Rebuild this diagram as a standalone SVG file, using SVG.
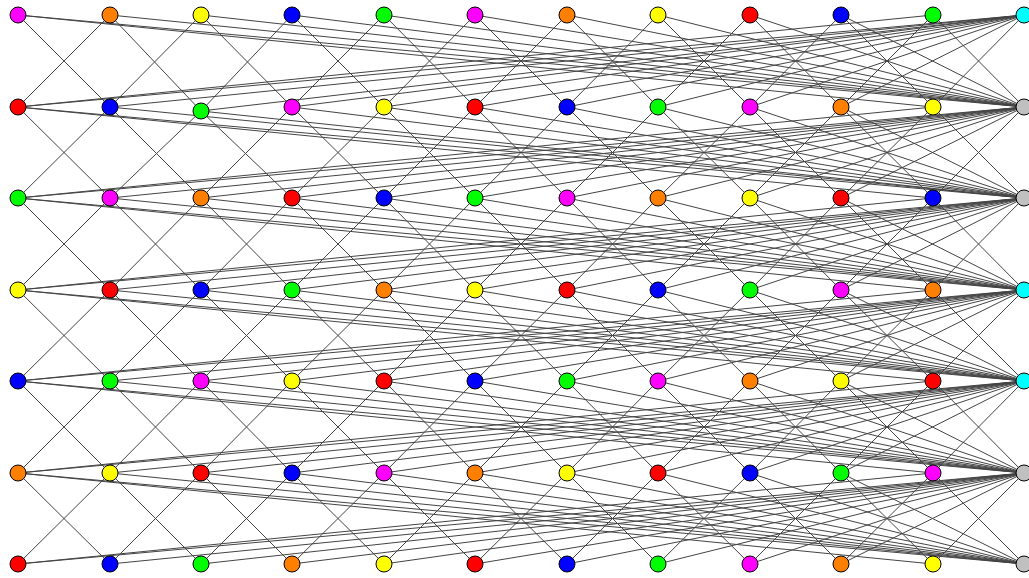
<svg xmlns="http://www.w3.org/2000/svg" width="1029" height="578" viewBox="0 0 1029 578">
<style>
.e{fill:none;stroke:#444;stroke-width:1}
circle{stroke:#000;stroke-width:1}
.M{fill:#ff00ff}.O{fill:#ff8000}.Y{fill:#ffff00}.B{fill:#0000ff}.G{fill:#00ff00}.R{fill:#ff0000}.C{fill:#00ffff}.S{fill:#c0c0c0}
</style>
<rect width="1029" height="578" fill="#fff"/>
<g id="connectors">
<path class="e" d="M18 15L110 107L18 198L110 290L18 381L110 473L18 564M110 15L18 107L110 198L18 290L110 381L18 473L110 564"/>
<path class="e" d="M110 15L201 111L110 198L201 290L110 381L201 473L110 564M201 15L110 107L201 198L110 290L201 381L110 473L201 564"/>
<path class="e" d="M201 15L292 107L201 198L292 290L201 381L292 473L201 564M292 15L201 111L292 198L201 290L292 381L201 473L292 564"/>
<path class="e" d="M292 15L384 107L292 198L384 290L292 381L384 473L292 564M384 15L292 107L384 198L292 290L384 381L292 473L384 564"/>
<path class="e" d="M384 15L475 107L384 198L475 290L384 381L475 473L384 564M475 15L384 107L475 198L384 290L475 381L384 473L475 564"/>
<path class="e" d="M475 15L567 107L475 198L567 290L475 381L567 473L475 564M567 15L475 107L567 198L475 290L567 381L475 473L567 564"/>
<path class="e" d="M567 15L658 107L567 198L658 290L567 381L658 473L567 564M658 15L567 107L658 198L567 290L658 381L567 473L658 564"/>
<path class="e" d="M658 15L750 107L658 198L750 290L658 381L750 473L658 564M750 15L658 107L750 198L658 290L750 381L658 473L750 564"/>
<path class="e" d="M750 15L841 107L750 198L841 290L750 381L841 473L750 564M841 15L750 107L841 198L750 290L841 381L750 473L841 564"/>
<path class="e" d="M841 15L933 107L841 198L933 290L841 381L933 473L841 564M933 15L841 107L933 198L841 290L933 381L841 473L933 564"/>
<path class="e" d="M933 15L1024 107L933 198L1024 290L933 381L1024 473L933 564M1024 15L933 107L1024 198L933 290L1024 381L933 473L1024 564"/>
<path class="e" d="M18 15L1024 107M1024 15L18 107L1024 198M1024 107L18 198L1024 290M1024 198L18 290L1024 381M1024 290L18 381L1024 473M1024 381L18 473L1024 564M18 564L1024 473"/>
<path class="e" d="M110 15L1024 107M1024 15L110 107L1024 198M1024 107L110 198L1024 290M1024 198L110 290L1024 381M1024 290L110 381L1024 473M1024 381L110 473L1024 564M110 564L1024 473"/>
<path class="e" d="M201 15L1024 107M1024 15L201 111L1024 198M1024 107L201 198L1024 290M1024 198L201 290L1024 381M1024 290L201 381L1024 473M1024 381L201 473L1024 564M201 564L1024 473"/>
<path class="e" d="M292 15L1024 107M1024 15L292 107L1024 198M1024 107L292 198L1024 290M1024 198L292 290L1024 381M1024 290L292 381L1024 473M1024 381L292 473L1024 564M292 564L1024 473"/>
<path class="e" d="M384 15L1024 107M1024 15L384 107L1024 198M1024 107L384 198L1024 290M1024 198L384 290L1024 381M1024 290L384 381L1024 473M1024 381L384 473L1024 564M384 564L1024 473"/>
<path class="e" d="M475 15L1024 107M1024 15L475 107L1024 198M1024 107L475 198L1024 290M1024 198L475 290L1024 381M1024 290L475 381L1024 473M1024 381L475 473L1024 564M475 564L1024 473"/>
<path class="e" d="M567 15L1024 107M1024 15L567 107L1024 198M1024 107L567 198L1024 290M1024 198L567 290L1024 381M1024 290L567 381L1024 473M1024 381L567 473L1024 564M567 564L1024 473"/>
<path class="e" d="M658 15L1024 107M1024 15L658 107L1024 198M1024 107L658 198L1024 290M1024 198L658 290L1024 381M1024 290L658 381L1024 473M1024 381L658 473L1024 564M658 564L1024 473"/>
<path class="e" d="M750 15L1024 107M1024 15L750 107L1024 198M1024 107L750 198L1024 290M1024 198L750 290L1024 381M1024 290L750 381L1024 473M1024 381L750 473L1024 564M750 564L1024 473"/>
<path class="e" d="M841 15L1024 107M1024 15L841 107L1024 198M1024 107L841 198L1024 290M1024 198L841 290L1024 381M1024 290L841 381L1024 473M1024 381L841 473L1024 564M841 564L1024 473"/>
<path class="e" d="M18 15L933 107M933 15L18 107L933 198M933 107L18 198L933 290M933 198L18 290L933 381M933 290L18 381L933 473M933 381L18 473L933 564M18 564L933 473"/>
</g>
<g id="nodes">
<g id="r0">
<circle id="n0_0" class="M" cx="18" cy="15" r="8"/><circle id="n1_0" class="O" cx="110" cy="15" r="8"/><circle id="n2_0" class="Y" cx="201" cy="15" r="8"/><circle id="n3_0" class="B" cx="292" cy="15" r="8"/><circle id="n4_0" class="G" cx="384" cy="15" r="8"/><circle id="n5_0" class="M" cx="475" cy="15" r="8"/><circle id="n6_0" class="O" cx="567" cy="15" r="8"/><circle id="n7_0" class="Y" cx="658" cy="15" r="8"/><circle id="n8_0" class="R" cx="750" cy="15" r="8"/><circle id="n9_0" class="B" cx="841" cy="15" r="8"/><circle id="n10_0" class="G" cx="933" cy="15" r="8"/><circle id="n11_0" class="C" cx="1024" cy="15" r="8"/>
</g>
<g id="r1">
<circle id="n0_1" class="R" cx="18" cy="107" r="8"/><circle id="n1_1" class="B" cx="110" cy="107" r="8"/><circle id="n2_1" class="G" cx="201" cy="111" r="8"/><circle id="n3_1" class="M" cx="292" cy="107" r="8"/><circle id="n4_1" class="Y" cx="384" cy="107" r="8"/><circle id="n5_1" class="R" cx="475" cy="107" r="8"/><circle id="n6_1" class="B" cx="567" cy="107" r="8"/><circle id="n7_1" class="G" cx="658" cy="107" r="8"/><circle id="n8_1" class="M" cx="750" cy="107" r="8"/><circle id="n9_1" class="O" cx="841" cy="107" r="8"/><circle id="n10_1" class="Y" cx="933" cy="107" r="8"/><circle id="n11_1" class="S" cx="1024" cy="107" r="8"/>
</g>
<g id="r2">
<circle id="n0_2" class="G" cx="18" cy="198" r="8"/><circle id="n1_2" class="M" cx="110" cy="198" r="8"/><circle id="n2_2" class="O" cx="201" cy="198" r="8"/><circle id="n3_2" class="R" cx="292" cy="198" r="8"/><circle id="n4_2" class="B" cx="384" cy="198" r="8"/><circle id="n5_2" class="G" cx="475" cy="198" r="8"/><circle id="n6_2" class="M" cx="567" cy="198" r="8"/><circle id="n7_2" class="O" cx="658" cy="198" r="8"/><circle id="n8_2" class="Y" cx="750" cy="198" r="8"/><circle id="n9_2" class="R" cx="841" cy="198" r="8"/><circle id="n10_2" class="B" cx="933" cy="198" r="8"/><circle id="n11_2" class="S" cx="1024" cy="198" r="8"/>
</g>
<g id="r3">
<circle id="n0_3" class="Y" cx="18" cy="290" r="8"/><circle id="n1_3" class="R" cx="110" cy="290" r="8"/><circle id="n2_3" class="B" cx="201" cy="290" r="8"/><circle id="n3_3" class="G" cx="292" cy="290" r="8"/><circle id="n4_3" class="O" cx="384" cy="290" r="8"/><circle id="n5_3" class="Y" cx="475" cy="290" r="8"/><circle id="n6_3" class="R" cx="567" cy="290" r="8"/><circle id="n7_3" class="B" cx="658" cy="290" r="8"/><circle id="n8_3" class="G" cx="750" cy="290" r="8"/><circle id="n9_3" class="M" cx="841" cy="290" r="8"/><circle id="n10_3" class="O" cx="933" cy="290" r="8"/><circle id="n11_3" class="C" cx="1024" cy="290" r="8"/>
</g>
<g id="r4">
<circle id="n0_4" class="B" cx="18" cy="381" r="8"/><circle id="n1_4" class="G" cx="110" cy="381" r="8"/><circle id="n2_4" class="M" cx="201" cy="381" r="8"/><circle id="n3_4" class="Y" cx="292" cy="381" r="8"/><circle id="n4_4" class="R" cx="384" cy="381" r="8"/><circle id="n5_4" class="B" cx="475" cy="381" r="8"/><circle id="n6_4" class="G" cx="567" cy="381" r="8"/><circle id="n7_4" class="M" cx="658" cy="381" r="8"/><circle id="n8_4" class="O" cx="750" cy="381" r="8"/><circle id="n9_4" class="Y" cx="841" cy="381" r="8"/><circle id="n10_4" class="R" cx="933" cy="381" r="8"/><circle id="n11_4" class="C" cx="1024" cy="381" r="8"/>
</g>
<g id="r5">
<circle id="n0_5" class="O" cx="18" cy="473" r="8"/><circle id="n1_5" class="Y" cx="110" cy="473" r="8"/><circle id="n2_5" class="R" cx="201" cy="473" r="8"/><circle id="n3_5" class="B" cx="292" cy="473" r="8"/><circle id="n4_5" class="M" cx="384" cy="473" r="8"/><circle id="n5_5" class="O" cx="475" cy="473" r="8"/><circle id="n6_5" class="Y" cx="567" cy="473" r="8"/><circle id="n7_5" class="R" cx="658" cy="473" r="8"/><circle id="n8_5" class="B" cx="750" cy="473" r="8"/><circle id="n9_5" class="G" cx="841" cy="473" r="8"/><circle id="n10_5" class="M" cx="933" cy="473" r="8"/><circle id="n11_5" class="S" cx="1024" cy="473" r="8"/>
</g>
<g id="r6">
<circle id="n0_6" class="R" cx="18" cy="564" r="8"/><circle id="n1_6" class="B" cx="110" cy="564" r="8"/><circle id="n2_6" class="G" cx="201" cy="564" r="8"/><circle id="n3_6" class="O" cx="292" cy="564" r="8"/><circle id="n4_6" class="Y" cx="384" cy="564" r="8"/><circle id="n5_6" class="R" cx="475" cy="564" r="8"/><circle id="n6_6" class="B" cx="567" cy="564" r="8"/><circle id="n7_6" class="G" cx="658" cy="564" r="8"/><circle id="n8_6" class="M" cx="750" cy="564" r="8"/><circle id="n9_6" class="O" cx="841" cy="564" r="8"/><circle id="n10_6" class="Y" cx="933" cy="564" r="8"/><circle id="n11_6" class="S" cx="1024" cy="564" r="8"/>
</g>
</g>
</svg>
